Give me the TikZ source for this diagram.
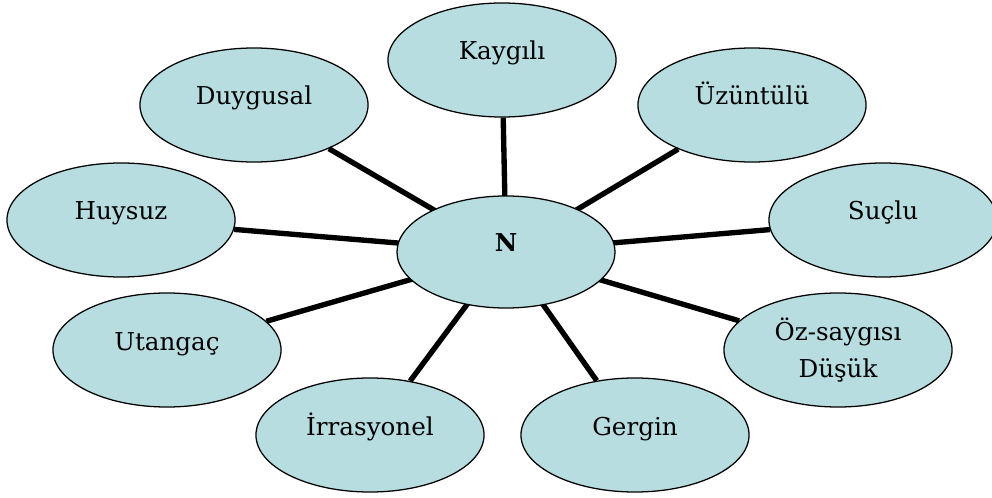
\documentclass[tikz,border=0pt]{standalone}
\usepackage{fontspec}
\setmainfont{DejaVu Serif}
\usepackage{tikz}
\usepackage{xcolor}
\usetikzlibrary{shapes.geometric}
\definecolor{trait}{RGB}{183,221,224}

\begin{document}
\begin{tikzpicture}[x=0.025cm,y=-0.025cm,
    trait/.style={ellipse,draw=black,line width=0.9pt,fill=trait,inner sep=0pt,
        minimum width=5.7cm,minimum height=2.85cm,font=\fontsize{17.5}{20}\selectfont,
        text height=0.4cm,text depth=0.4cm},
    link/.style={line width=3.8pt,black}]
            \useasboundingbox (0,0) rectangle (992,498);
            % outer ellipses
            \node[trait] (kaygili) at (502,60) {Kaygılı};
            \node[trait] (duygusal) at (254,105) {Duygusal};
            \node[trait] (uzuntulu) at (752,105) {Üzüntülü};
            \node[trait] (huysuz) at (121,220) {Huysuz};
            \node[trait] (suclu) at (883,220) {Suçlu};
            \node[trait] (utangac) at (167,350) {Utangaç};
            \node[trait,align=center,text height=,text depth=] (ozsaygi) at (838,350) {Öz-saygısı\\[0.2cm]Düşük};
            \node[trait] (irrasyonel) at (370,435) {İrrasyonel};
            \node[trait] (gergin) at (635,435) {Gergin};
            % spokes
            \foreach \n in {kaygili,duygusal,uzuntulu,huysuz,suclu,utangac,ozsaygi,irrasyonel,gergin}
                \draw[link] (\n) -- (506,252);
            \node[trait,minimum width=5.45cm,minimum height=2.8cm,font=\fontsize{17.5}{20}\selectfont\bfseries] (n) at (506,252) {N};
        \end{tikzpicture}
\end{document}
